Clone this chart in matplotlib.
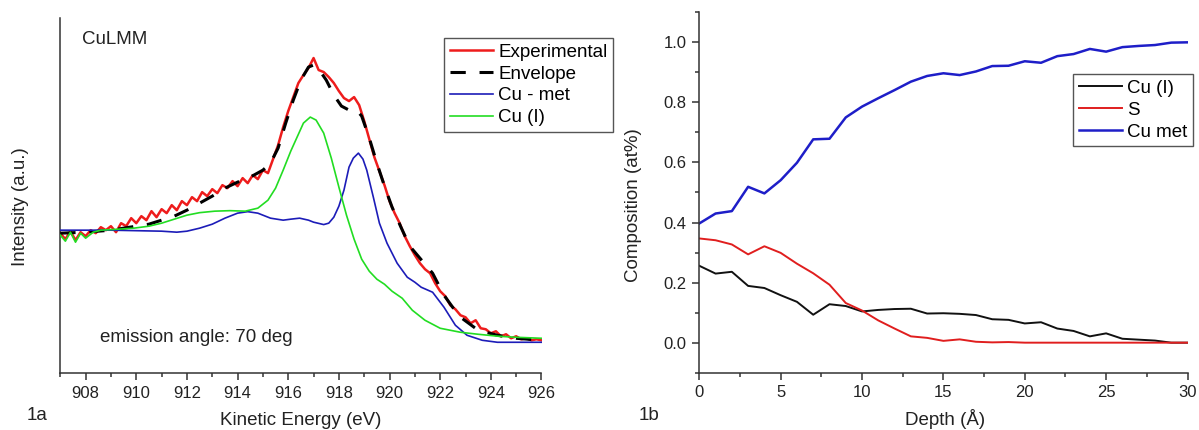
import matplotlib
matplotlib.use("Agg")
import matplotlib.pyplot as plt
from matplotlib.ticker import MultipleLocator, FixedLocator, FormatStrFormatter

plt.rcParams['font.family'] = ['Liberation Sans', 'DejaVu Sans']

# ---------------- Panel 1a data (Kinetic energy, arbitrary intensity) ----------------
exp_energy = [907.0, 907.2, 907.4, 907.6, 907.8, 908.0, 908.2, 908.4, 908.6, 908.8,
              909.0, 909.2, 909.4, 909.6, 909.8, 910.0, 910.2, 910.4, 910.6, 910.8,
              911.0, 911.2, 911.4, 911.6, 911.8, 912.0, 912.2, 912.4, 912.6, 912.8,
              913.0, 913.2, 913.4, 913.6, 913.8, 914.0, 914.2, 914.4, 914.6, 914.8,
              915.0, 915.2, 915.4, 915.6, 915.8, 916.0, 916.2, 916.4, 916.6, 916.8,
              917.0, 917.2, 917.4, 917.6, 917.8, 918.0, 918.2, 918.4, 918.6, 918.8,
              919.0, 919.2, 919.4, 919.6, 919.8, 920.0, 920.2, 920.4, 920.6, 920.8,
              921.0, 921.2, 921.4, 921.6, 921.8, 922.0, 922.2, 922.4, 922.6, 922.8,
              923.0, 923.2, 923.4, 923.6, 923.8, 924.0, 924.2, 924.4, 924.6, 924.8,
              925.0, 925.2, 925.4, 925.6, 925.8, 926.0]
exp_intensity = [140, 134, 142, 133, 141, 137, 143, 140, 146, 143,
                 147, 141, 150, 147, 155, 150, 157, 153, 162, 156,
                 164, 160, 168, 163, 172, 168, 176, 172, 181, 177,
                 184, 180, 188, 185, 192, 187, 195, 190, 198, 194,
                 203, 200, 214, 228, 246, 262, 276, 290, 298, 305,
                 315, 303, 301, 296, 290, 282, 275, 272, 276, 268,
                 252, 234, 216, 202, 188, 172, 160, 150, 137, 127,
                 118, 110, 104, 100, 90, 82, 77, 68, 64, 58,
                 56, 50, 53, 45, 44, 40, 42, 37, 39, 35,
                 37, 34, 35, 33, 34, 33]

env_energy = [907.0, 908.0, 909.0, 910.0, 910.5, 911.0, 911.5, 912.0, 912.5, 913.0,
              913.5, 914.0, 914.5, 915.0, 915.3, 915.6, 915.9, 916.2, 916.5, 916.8,
              917.0, 917.2, 917.5, 917.8, 918.1, 918.4, 918.7, 918.9, 919.2, 919.5,
              919.8, 920.1, 920.45, 920.8, 921.3, 921.7, 922.15, 922.75, 923.5, 924.26,
              925.0, 926.0]
env_intensity = [140, 141, 143, 147, 149, 153, 157, 163, 170, 177,
                 185, 191, 196, 203, 210, 225, 250, 273, 293, 306,
                 308, 304, 293, 278, 267, 263, 263, 257, 235, 210,
                 187, 166, 146, 127, 112, 100, 78, 57, 43, 38,
                 35, 33]

met_energy = [907.0, 908.0, 909.0, 910.0, 911.0, 911.6, 912.0, 912.5, 913.0, 913.5,
              914.0, 914.4, 914.8, 915.3, 915.8, 916.1, 916.45, 916.8, 917.0, 917.4,
              917.6, 917.8, 918.0, 918.2, 918.4, 918.57, 918.77, 918.95, 919.1, 919.36,
              919.6, 919.9, 920.3, 920.7, 921.0, 921.25, 921.7, 922.15, 922.6, 923.06,
              923.66, 924.26, 925.0, 926.0]
met_intensity = [143, 143, 143, 142.5, 142, 141, 142, 145, 149, 155,
                 160, 161.5, 160, 155, 153, 154, 155, 153, 151, 148.6,
                 150, 156, 167, 183, 206, 215, 220, 214, 203, 176,
                 150, 130, 110, 96, 91, 86, 81, 66, 48, 38,
                 33, 31, 31, 31]

cu1_energy = [907.0, 907.2, 907.4, 907.6, 907.8, 908.0, 908.3, 908.6, 909.3, 909.9,
              910.5, 911.0, 911.5, 912.0, 912.5, 913.1, 913.7, 914.3, 914.8, 915.2,
              915.5, 915.8, 916.1, 916.35, 916.6, 916.87, 917.1, 917.4, 917.7, 918.0,
              918.3, 918.6, 918.9, 919.2, 919.5, 919.8, 920.1, 920.5, 920.9, 921.4,
              922.0, 922.8, 923.5, 924.3, 925.0, 926.0]
cu1_intensity = [138, 132, 141, 131, 140, 135, 141, 143, 144, 145,
                 147, 150, 154, 158, 160.5, 162, 162.5, 162, 165, 173,
                 185, 203, 222, 236, 250, 256, 253, 240, 215, 186,
                 158, 134, 114, 102, 94, 89, 82, 75, 63, 53,
                 45, 41, 39, 37, 36, 35]

# ---------------- Panel 1b data (composition vs depth) ----------------
depth = list(range(0, 31))
cu_i = [0.256, 0.230, 0.236, 0.189, 0.182, 0.158, 0.136, 0.093, 0.128, 0.122,
        0.104, 0.109, 0.112, 0.113, 0.097, 0.098, 0.096, 0.092, 0.078, 0.076,
        0.064, 0.068, 0.047, 0.039, 0.021, 0.031, 0.013, 0.010, 0.007, 0.000,
        0.000]
s_comp = [0.347, 0.341, 0.327, 0.294, 0.321, 0.299, 0.263, 0.231, 0.193, 0.132,
          0.107, 0.074, 0.047, 0.021, 0.016, 0.006, 0.011, 0.003, 0.001, 0.002,
          0.000, 0.000, 0.000, 0.000, 0.000, 0.000, 0.000, 0.000, 0.000, 0.000,
          0.000]
cu_met = [0.397, 0.430, 0.438, 0.519, 0.497, 0.541, 0.599, 0.677, 0.679, 0.750,
          0.786, 0.814, 0.841, 0.869, 0.888, 0.897, 0.891, 0.903, 0.921, 0.922,
          0.937, 0.932, 0.954, 0.961, 0.978, 0.969, 0.984, 0.988, 0.991, 0.999,
          1.000]

W, H = 1199, 430
fig = plt.figure(figsize=(W / 100, H / 100), dpi=100)

def fx(px):
    return px / W

def fy(py):
    return 1 - py / H

spine_col = '#333333'
text_col = '#222222'
FS_TICK = 12
FS_TEXT = 13.5

# ---------------- Left panel ----------------
axL = fig.add_axes([fx(60.3), fy(373.3), fx(541.5) - fx(60.3), fy(18) - fy(373.3)])
axL.plot(exp_energy, exp_intensity, color='#ee1c1c', lw=1.8, label='Experimental', zorder=2)
axL.plot(env_energy, env_intensity, color='black', lw=2.2, ls=(0, (5, 4.5)), label='Envelope', zorder=3)
axL.plot(met_energy, met_intensity, color='#1c1cb8', lw=1.2, label='Cu - met', zorder=4)
axL.plot(cu1_energy, cu1_intensity, color='#22dd22', lw=1.2, label='Cu (I)', zorder=5)
axL.set_xlim(907, 926)
axL.set_ylim(0, 355)
axL.xaxis.set_major_locator(FixedLocator([908, 910, 912, 914, 916, 918, 920, 922, 924, 926]))
axL.xaxis.set_minor_locator(MultipleLocator(1))
axL.set_yticks([])
for s in ['top', 'right']:
    axL.spines[s].set_visible(False)
for s in ['left', 'bottom']:
    axL.spines[s].set_color(spine_col)
    axL.spines[s].set_linewidth(1.1)
axL.tick_params(axis='x', which='major', direction='out', length=5, width=1.1,
                color=spine_col, labelsize=FS_TICK, labelcolor=text_col, pad=4)
axL.tick_params(axis='x', which='minor', direction='out', length=3, width=1.1, color=spine_col)
axL.set_xlabel('Kinetic Energy (eV)', fontsize=FS_TEXT, color=text_col, va='bottom')
axL.xaxis.set_label_coords(0.5, (373.3 - 429) / 355.3)
axL.set_ylabel('Intensity (a.u.)', fontsize=FS_TEXT, color=text_col)
axL.yaxis.set_label_coords(-0.065, 0.47)
axL.text((82 - 60.3) / 481.2, (373.3 - 40) / 355.3, 'CuLMM', transform=axL.transAxes,
         fontsize=FS_TEXT, color=text_col, ha='left', va='center')
axL.text((100 - 60.3) / 481.2, (373.3 - 338) / 355.3, 'emission angle: 70 deg', transform=axL.transAxes,
         fontsize=FS_TEXT, color=text_col, ha='left', va='center')
legL = axL.legend(loc='upper left', bbox_to_anchor=(fx(444), fy(38)), bbox_transform=fig.transFigure,
                  fontsize=FS_TEXT, frameon=True, fancybox=False, framealpha=1, edgecolor='#555555',
                  borderaxespad=0, handlelength=2.3, handletextpad=0.3, labelspacing=0.25, borderpad=0.3)
legL.get_frame().set_linewidth(1.0)

# ---------------- Right panel ----------------
axR = fig.add_axes([fx(699.3), fy(372.7), fx(1187.5) - fx(699.3), fy(12.3) - fy(372.7)])
axR.plot(depth, cu_i, color='#111111', lw=1.4, label='Cu (I)')
axR.plot(depth, s_comp, color='#e01e1e', lw=1.4, label='S')
axR.plot(depth, cu_met, color='#1e1ec8', lw=1.8, label='Cu met')
axR.set_xlim(0, 30)
axR.set_ylim(-0.1, 1.1)
axR.xaxis.set_major_locator(MultipleLocator(5))
axR.xaxis.set_minor_locator(MultipleLocator(2.5))
axR.yaxis.set_major_locator(FixedLocator([0.0, 0.2, 0.4, 0.6, 0.8, 1.0]))
axR.yaxis.set_minor_locator(FixedLocator([-0.1, 0.1, 0.3, 0.5, 0.7, 0.9, 1.1]))
axR.yaxis.set_major_formatter(FormatStrFormatter('%.1f'))
for s in ['top', 'right']:
    axR.spines[s].set_visible(False)
for s in ['left', 'bottom']:
    axR.spines[s].set_color(spine_col)
    axR.spines[s].set_linewidth(1.1)
axR.tick_params(axis='both', which='major', direction='out', length=5, width=1.1,
                color=spine_col, labelsize=FS_TICK, labelcolor=text_col, pad=4)
axR.tick_params(axis='both', which='minor', direction='out', length=3, width=1.1, color=spine_col)
axR.set_xlabel('Depth (Å)', fontsize=FS_TEXT, color=text_col, va='bottom')
axR.xaxis.set_label_coords(0.503, (372.7 - 429) / 360.4)
axR.set_ylabel('Composition (at%)', fontsize=FS_TEXT, color=text_col)
axR.yaxis.set_label_coords(-0.118, 0.465)
legR = axR.legend(loc='upper left', bbox_to_anchor=(fx(1073), fy(74.3)), bbox_transform=fig.transFigure,
                  fontsize=FS_TEXT, frameon=True, fancybox=False, framealpha=1, edgecolor='#555555',
                  borderaxespad=0, handlelength=2.3, handletextpad=0.3, labelspacing=0.25, borderpad=0.3)
legR.get_frame().set_linewidth(1.0)

fig.text(fx(37), fy(416), '1a', fontsize=FS_TEXT, color=text_col, ha='center', va='center')
fig.text(fx(649), fy(416), '1b', fontsize=FS_TEXT, color=text_col, ha='center', va='center')

fig.savefig('out.png', dpi=100)
